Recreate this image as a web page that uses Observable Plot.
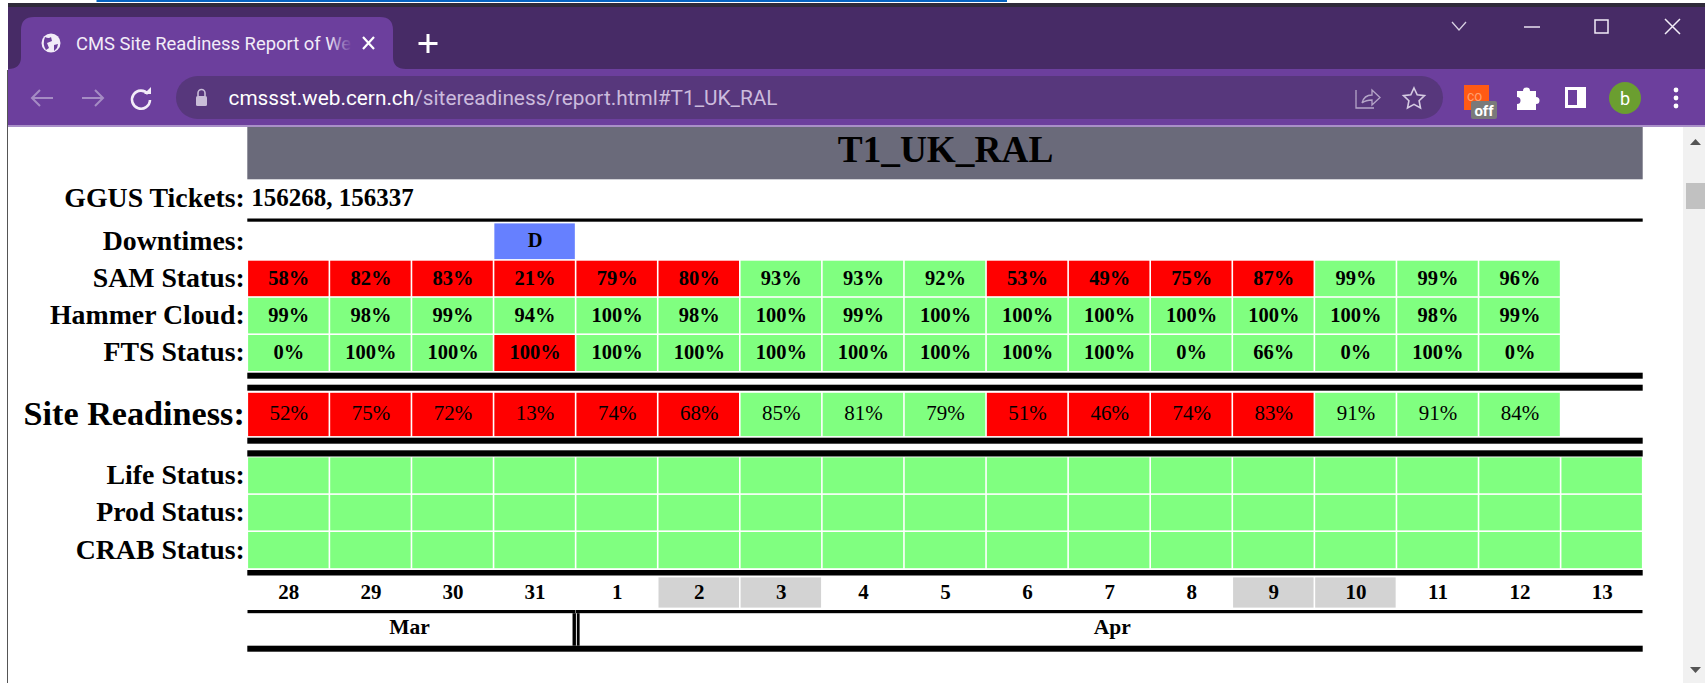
<!DOCTYPE html>
<html><head><meta charset="utf-8">
<script src="https://cdn.jsdelivr.net/npm/d3@7"></script>
<script src="https://cdn.jsdelivr.net/npm/@observablehq/plot@0.6"></script>
<style>
html,body{margin:0;padding:0;background:#fff;overflow:hidden;width:1705px;height:683px}
#chart{position:absolute;left:0;top:0}
#chrome{position:absolute;left:0;top:0;width:1705px;height:683px;pointer-events:none}
</style></head><body>
<div id="chart"></div>
<svg id="chrome" width="1705" height="683" xmlns="http://www.w3.org/2000/svg">
  <defs><linearGradient id="fade" x1="0" x2="1" y1="0" y2="0"><stop offset="0" stop-color="#6c3f9d" stop-opacity="0"/><stop offset="0.8" stop-color="#6c3f9d"/></linearGradient></defs>
  <rect x="96.5" y="0" width="910.5" height="2" fill="#0563c1"/>
  <rect x="8" y="3" width="1697" height="5" fill="#2f2a3a"/>
  <rect x="8" y="7" width="1697" height="63" fill="#472b66"/>
  <rect x="8" y="69" width="1697" height="56" fill="#6c3f9d"/>
  <rect x="8" y="125" width="1697" height="2" fill="#a990c8"/>
  <path d="M8 69 Q21 69 21 57 V30 Q21 17 34 17 H380 Q393 17 393 30 V57 Q393 69 406 69Z" fill="#6c3f9d"/>
  <rect x="176" y="76" width="1267" height="43" rx="21.5" fill="#57377c"/>
  <line x1="7.5" y1="70" x2="7.5" y2="683" stroke="#555" stroke-width="1"/>
  <circle cx="51" cy="43" r="9.5" fill="#f2ecf8"/>
  <path d="M45 37 q4 2 6 0 l1 4 -5 2 2 5 -3 2 q-4 -6 -1 -13z M54 45 l4 -1 -1 4 -3 3z" fill="#6c3f9d"/>
  <text x="76" y="49.5" font-family="Roboto" font-size="18.4" fill="#f2ecf8" id="tabtitle">CMS Site Readiness Report of We</text>
  <rect x="328" y="25" width="30" height="36" fill="url(#fade)"/>
  <path d="M363 37 l11 12 M374 37 l-11 12" stroke="#fff" stroke-width="2.2"/>
  <path d="M428 34 v19 M418.5 43.5 h19" stroke="#fff" stroke-width="3"/>
  <path d="M32 98 h21 M40 90 l-8 8 8 8" fill="none" stroke="#a58cc4" stroke-width="2"/>
  <path d="M103 98 h-21 M95 90 l8 8 -8 8" fill="none" stroke="#a58cc4" stroke-width="2"/>
  <path d="M148 94 a9 9 0 1 0 2 6" fill="none" stroke="#f2ecf8" stroke-width="2.6"/>
  <path d="M144 94 h7 v-7z" fill="#f2ecf8"/>
  <rect x="196" y="96" width="11" height="10" rx="1.5" fill="#c9bdd8"/>
  <path d="M198 96 v-3 a3.5 3.5 0 0 1 7 0 v3" fill="none" stroke="#c9bdd8" stroke-width="1.6"/>
  <text x="228.5" y="105" font-family="Roboto" font-size="20.8" fill="#fff" id="urltext">cmssst.web.cern.ch<tspan fill="#cbbbdd">/sitereadiness/report.html#T1_UK_RAL</tspan></text>
  <path d="M1356 90 v18 h18 M1362 103 q2 -8 10 -8 v-5 l8 7.5 -8 7.5 v-5 q-6 0 -10 3" fill="none" stroke="#b5a6c8" stroke-width="1.3"/>
  <path d="M1414 88 l3.2 6.8 7.3 .9 -5.4 5 1.4 7.3 -6.5 -3.6 -6.5 3.6 1.4 -7.3 -5.4 -5 7.3 -.9z" fill="none" stroke="#d5cbe2" stroke-width="1.6"/>
  <rect x="1464" y="85" width="25" height="25" fill="#ff5a14"/>
  <text x="1467" y="101" font-family="Roboto" font-size="14" fill="#ffa070">co</text>
  <rect x="1471" y="101" width="26" height="18" rx="2" fill="#7a7a7a"/>
  <text x="1484" y="116" text-anchor="middle" font-family="Roboto" font-weight="700" font-size="15" fill="#fff">off</text>
  <path d="M1517 91 h6 a3.5 3.5 0 0 1 7 0 h6 v6 a3.5 3.5 0 0 1 0 7 v6 h-19 v-6 a3.5 3.5 0 0 0 0 -7z" fill="#fff"/>
  <rect x="1565" y="87" width="21" height="21" fill="#fff"/>
  <rect x="1568" y="90" width="9" height="15" fill="#6c3f9d"/>
  <circle cx="1625" cy="98" r="16" fill="#6b9e30"/>
  <text x="1625" y="104.5" text-anchor="middle" font-family="Roboto" font-size="18" fill="#fff">b</text>
  <circle cx="1676" cy="90" r="2.4" fill="#fff"/><circle cx="1676" cy="98" r="2.4" fill="#fff"/><circle cx="1676" cy="106" r="2.4" fill="#fff"/>
  <path d="M1452 22 l7 8 7 -8" fill="none" stroke="#d8d0e2" stroke-width="1.3"/>
  <path d="M1524 27 h16" stroke="#e8e2f0" stroke-width="1.5"/>
  <rect x="1595" y="20" width="13" height="13" fill="none" stroke="#f2ecf8" stroke-width="1.5"/>
  <path d="M1665 19 l15 15 M1680 19 l-15 15" stroke="#f2ecf8" stroke-width="1.5"/>
  <rect x="1683" y="127" width="22" height="556" fill="#f1f1f1"/>
  <path d="M1690 145 l5.5 -6 5.5 6z" fill="#555"/>
  <rect x="1686" y="183" width="19" height="26" fill="#c1c1c1"/>
  <path d="M1690 667 l5.5 6 5.5 -6z" fill="#555"/>
</svg>
<script>
const days = [28,29,30,31,1,2,3,4,5,6,7,8,9,10,11,12,13];
const weekendDays = [2,3,9,10];
const months = ["Mar","Apr"];
const monthLengths = [4,13];
const siteName = "T1_UK_RAL";
const tickets = "156268, 156337";
const samValues = [58,82,83,21,79,80,93,93,92,53,49,75,87,99,99,96];
const samStates = "RRRRRRGGGRRRRGGG";
const hammerValues = [99,98,99,94,100,98,100,99,100,100,100,100,100,100,98,99];
const hammerStates = "GGGGGGGGGGGGGGGG";
const ftsValues = [0,100,100,100,100,100,100,100,100,100,100,0,66,0,100,0];
const ftsStates = "GGGRGGGGGGGGGGGG";
const readinessValues = [52,75,72,13,74,68,85,81,79,51,46,74,83,91,91,84];
const readinessStates = "RRRRRRGGGRRRRGGG";
const downtimeIndex = 3;
const flatRows = ["Life Status:","Prod Status:","CRAB Status:"];

// table layout: row names and the pixel edges between them (piecewise y scale)
const rowNames = ["title","GGUS Tickets:","l1","g1","Downtimes:","SAM Status:","Hammer Cloud:","FTS Status:","g2","l2","g3","l3","g4","Site Readiness:","g5","l4","g6","l5","g7","Life Status:","Prod Status:","CRAB Status:","g8","l6","g9","days","g10","l7","months","l8"];
const rowEdges = [127,179.3,218.5,221.7,222.6,259.9,297,334.2,371.8,372.7,378.7,384.7,390.7,392,436.9,437.7,443.7,450.3,456.5,456.6,494.1,531.2,569,570,575.5,576.6,608.4,610,613.2,645.7,651.7];
const row = n => rowNames.indexOf(n);
const lineRows = ["l1","l2","l3","l4","l5","l6","l8"];

const cells = [];
const addRow = (name, values, states, suffix="%") => values.forEach((v,i) => cells.push({name, i, state: states[i], label: v + suffix}));
addRow("SAM Status:", samValues, samStates);
addRow("Hammer Cloud:", hammerValues, hammerStates);
addRow("FTS Status:", ftsValues, ftsStates);
const readinessCells = readinessValues.map((v,i) => ({name:"Site Readiness:", i, state: readinessStates[i], label: v+"%"}));
cells.push(...readinessCells.map(d => ({...d, label:""})));
flatRows.forEach(name => days.forEach((_,i) => cells.push({name, i, state:"G", label:""})));
cells.push({name:"Downtimes:", i:downtimeIndex, state:"D", label:"D"});
days.forEach((d,i) => { if (weekendDays.includes(d)) cells.push({name:"days", i, state:"W", label:""}); });

const axisRows = ["GGUS Tickets:","Downtimes:","SAM Status:","Hammer Cloud:","FTS Status:",...flatRows];
const font = "'Liberation Serif'";
const monthStart = [0, monthLengths[0]];
const monthLabel = (i, dx) => Plot.text([months[i]], {x:monthStart[i]+monthLengths[i]/2, y:row("months")+.5, text:d=>d, dx, dy:-3, fontSize:21.5, fontWeight:"bold", fill:"black", fontFamily:font});

const chart = Plot.plot({
  width:1705, height:683, marginLeft:247.3, marginRight:62.3, marginTop:0, marginBottom:0,
  style:{background:"transparent", fontFamily:font},
  x:{domain:[0,days.length], axis:null},
  y:{type:"linear", domain:d3.range(rowEdges.length), range:rowEdges, axis:null},
  color:{domain:["R","G","D","W","T"], range:["#ff0000","#80ff80","#6680ff","#d3d3d3","#6a6a7a"]},
  marks:[
    Plot.rect([{s:"T"}], {x1:0, x2:days.length, y1:row("title"), y2:row("title")+1, fill:"s"}),
    Plot.rect(cells, {x1:"i", x2:d=>d.i+1, y1:d=>row(d.name), y2:d=>row(d.name)+1, fill:"state", inset:0.8}),
    Plot.rect(lineRows, {x1:0, x2:days.length, y1:d=>row(d), y2:d=>row(d)+1, fill:"black"}),
    Plot.rect(monthLengths, {x1:(d,i)=>monthStart[i], x2:(d,i)=>monthStart[i]+d, y1:row("l7"), y2:row("l7")+1, fill:"black", insetRight:0.2, insetLeft:0.2}),
    Plot.ruleX([monthLengths[0]], {y1:row("months"), y2:row("months")+1, stroke:"black", strokeWidth:3.4, dx:-1.9}),
    Plot.ruleX([monthLengths[0]], {y1:row("months"), y2:row("months")+1, stroke:"black", strokeWidth:2.8, dx:2.1}),
    Plot.axisY({anchor:"left", ticks:axisRows.map(n=>row(n)+.5), tickFormat:v=>rowNames[v-.5], tickSize:0, tickPadding:3, dy:-1, label:null, fontSize:27.8, fontWeight:"bold", fontFamily:font, fill:"black"}),
    Plot.axisY({anchor:"left", ticks:[row("Site Readiness:")+.5], tickFormat:v=>rowNames[v-.5], tickSize:0, tickPadding:3, dy:-1, label:null, fontSize:34.2, fontWeight:"bold", fontFamily:font, fill:"black"}),
    Plot.text([siteName], {x:days.length/2, y:row("title")+.5, text:d=>d, dy:-3.5, fontSize:37.3, fontWeight:"bold", fill:"black", fontFamily:font}),
    Plot.text([tickets], {x:0, y:row("GGUS Tickets:")+.5, text:d=>d, dx:3.5, dy:-1, textAnchor:"start", fontSize:25, fontWeight:"bold", fill:"black", fontFamily:font}),
    Plot.text(cells.filter(d=>d.label), {x:d=>d.i+.5, y:d=>row(d.name)+.5, text:"label", dy:-1, fontSize:20.5, fontWeight:"bold", fill:"black", fontFamily:font}),
    Plot.text(readinessCells, {x:d=>d.i+.5, y:d=>row(d.name)+.5, text:"label", dy:-2, fontSize:21, fill:"black", fontFamily:font}),
    Plot.text(days, {x:(d,i)=>i+.5, y:row("days")+.5, text:d=>String(d), dy:-1, fontSize:21, fontWeight:"bold", fill:"black", fontFamily:font}),
    monthLabel(0, -2.5),
    monthLabel(1, 2.5)
  ]
});
document.getElementById("chart").appendChild(chart);
</script>
</body></html>
